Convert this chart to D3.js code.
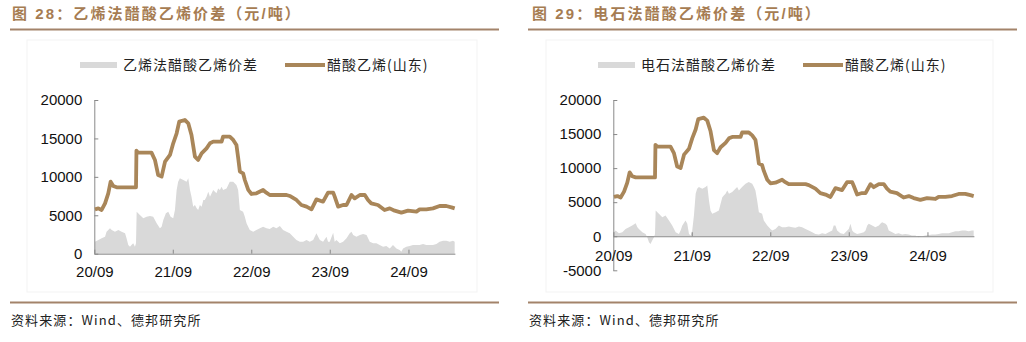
<!DOCTYPE html>
<html>
<head>
<meta charset="utf-8">
<script src="https://cdn.jsdelivr.net/npm/d3@7"></script>
<style>
  html, body { margin: 0; padding: 0; background: #fff; }
  svg { display: block; }
</style>
</head>
<body>
<svg id="chart" width="1026" height="342"></svg>
<script>
// ---- Data (元/吨) ----
const xTickDates = ["2020-09-01", "2021-09-01", "2022-09-01", "2023-09-01", "2024-09-01"];
const xTickLabels = ["20/09", "21/09", "22/09", "23/09", "24/09"];
const leftYTicks = [0, 5000, 10000, 15000, 20000];
const rightYTicks = [-5000, 0, 5000, 10000, 15000, 20000];

// 醋酸乙烯(山东) price
const priceDates = [
  "2020-09-04","2020-09-20","2020-10-05","2020-10-21","2020-11-05","2020-11-16","2020-11-28","2020-12-14",
  "2021-03-14","2021-03-16","2021-03-24","2021-05-25","2021-06-10","2021-06-25","2021-07-11","2021-07-27",
  "2021-08-19","2021-09-03","2021-09-19","2021-10-01","2021-10-27","2021-11-12","2021-11-27","2021-12-13",
  "2021-12-28","2022-01-13","2022-02-05","2022-02-21","2022-03-08","2022-04-16","2022-04-23","2022-05-24",
  "2022-06-09","2022-06-24","2022-07-02","2022-07-10","2022-07-25","2022-08-02","2022-08-18","2022-09-02",
  "2022-09-25","2022-10-26","2022-11-10","2022-11-26","2023-02-12","2023-02-27","2023-03-30","2023-04-22",
  "2023-05-16","2023-06-08","2023-07-01","2023-08-01","2023-08-24","2023-09-17","2023-09-24","2023-10-10",
  "2023-11-02","2023-11-18","2023-12-11","2023-12-26","2024-01-19","2024-02-11","2024-02-26","2024-03-12",
  "2024-04-12","2024-05-13","2024-06-06","2024-06-29","2024-07-30","2024-08-30","2024-10-08","2024-10-23",
  "2024-11-23","2024-12-24","2025-01-24","2025-02-24","2025-03-20","2025-04-04"
];
const priceValues = [
  5770,5900,5690,6550,7860,9370,8810,8640,
  8640,13410,13150,13150,12200,10240,10030,11980,
  12850,14370,15670,17190,17400,16970,15450,12630,
  12200,13060,13710,14370,14580,14580,15230,15230,
  14800,14150,12500,10680,10460,9590,8300,7770,
  7860,8290,7940,7640,7640,7510,6990,6340,
  6120,5770,7070,6770,7940,7940,7420,6120,
  6340,6340,7640,7200,7640,7640,6990,6550,
  6340,5690,5900,5600,5340,5600,5470,5770,
  5770,5900,6210,6210,6030,5900
];

// 乙烯法醋酸乙烯价差
const ethyleneDates = [
  "2020-09-04","2020-09-20","2020-10-05","2020-10-21","2020-10-28","2020-11-05","2020-11-13","2020-11-21",
  "2020-12-06","2020-12-22","2021-01-06","2021-01-22","2021-01-29","2021-02-06","2021-02-14","2021-02-21",
  "2021-03-01","2021-03-09","2021-03-14","2021-03-17","2021-04-01","2021-04-17","2021-05-02","2021-05-18",
  "2021-06-02","2021-06-18","2021-07-03","2021-07-11","2021-07-19","2021-07-31","2021-08-11","2021-08-22",
  "2021-09-03","2021-09-11","2021-09-19","2021-09-26","2021-10-04","2021-10-20","2021-11-04","2021-11-12",
  "2021-11-20","2021-11-27","2021-12-05","2021-12-13","2021-12-21","2021-12-28","2022-01-05","2022-01-13",
  "2022-01-21","2022-01-28","2022-02-05","2022-02-13","2022-02-21","2022-03-08","2022-03-23","2022-03-31",
  "2022-04-08","2022-04-16","2022-04-23","2022-05-09","2022-05-24","2022-06-09","2022-06-24","2022-07-02",
  "2022-07-10","2022-07-25","2022-08-02","2022-08-10","2022-08-25","2022-09-10","2022-09-25","2022-10-11",
  "2022-10-26","2022-11-11","2022-11-26","2022-12-12","2022-12-27","2023-01-12","2023-01-27","2023-02-12",
  "2023-02-27","2023-03-15","2023-03-30","2023-04-15","2023-04-30","2023-05-16","2023-05-31","2023-06-16",
  "2023-07-01","2023-07-09","2023-07-17","2023-08-01","2023-08-17","2023-08-24","2023-09-01","2023-09-17",
  "2023-09-24","2023-10-02","2023-10-18","2023-11-02","2023-11-18","2023-12-03","2023-12-11","2023-12-19",
  "2024-01-03","2024-01-19","2024-02-03","2024-02-19","2024-03-05","2024-03-21","2024-04-05","2024-04-20",
  "2024-05-06","2024-05-21","2024-06-06","2024-06-21","2024-07-07","2024-07-22","2024-07-30","2024-08-07",
  "2024-08-22","2024-09-07","2024-09-22","2024-10-08","2024-10-23","2024-11-08","2024-11-23","2024-12-09",
  "2024-12-24","2025-01-09","2025-01-24","2025-02-09","2025-02-24","2025-03-12","2025-03-27","2025-04-04"
];
const ethyleneValues = [
  1560,1780,2000,2210,2860,3080,3300,3080,
  2860,3080,2860,2650,2000,1130,910,1130,
  1350,910,1350,5470,5030,4600,4820,4900,
  4820,3950,3300,3520,4380,5250,5470,4820,
  4600,5690,8290,9370,9810,9590,9370,9810,
  8290,7420,6120,6340,5900,5690,6340,6120,
  6990,6990,7420,8070,7420,8290,7860,8500,
  8290,8720,8290,8500,9370,9370,8940,8290,
  5690,5470,4820,3950,3080,2860,3080,3300,
  3520,3300,3200,3520,3300,3600,3080,2860,
  2650,2210,1780,1560,1560,1780,1560,1780,
  2650,2210,1780,1560,2210,1560,1560,2730,
  1560,1780,1350,1560,2000,2650,2860,2430,
  2210,2430,2560,2430,1560,1350,1350,1130,
  910,1000,690,1130,690,480,260,690,
  910,1000,1130,1130,1130,1260,1130,1130,
  1130,1260,1560,1690,1690,1560,1690,1560
];

// 电石法醋酸乙烯价差
const carbideDates = [
  "2020-09-04","2020-09-12","2020-09-27","2020-10-13","2020-10-28","2020-11-13","2020-11-28","2020-12-14",
  "2020-12-22","2020-12-29","2021-01-14","2021-01-29","2021-02-06","2021-02-14","2021-02-21","2021-03-01",
  "2021-03-09","2021-03-14","2021-03-17","2021-04-01","2021-04-17","2021-05-02","2021-05-18","2021-06-02",
  "2021-06-18","2021-07-03","2021-07-11","2021-07-19","2021-08-03","2021-08-11","2021-08-19","2021-08-27",
  "2021-09-03","2021-09-11","2021-09-19","2021-09-26","2021-10-04","2021-10-20","2021-11-04","2021-11-12",
  "2021-11-20","2021-11-27","2021-12-05","2021-12-21","2022-01-05","2022-01-13","2022-01-21","2022-01-28",
  "2022-02-05","2022-02-13","2022-02-21","2022-03-08","2022-03-23","2022-03-31","2022-04-08","2022-04-23",
  "2022-05-09","2022-05-24","2022-06-09","2022-06-17","2022-06-24","2022-07-02","2022-07-10","2022-07-25",
  "2022-08-02","2022-08-18","2022-09-02","2022-09-10","2022-09-25","2022-10-11","2022-10-26","2022-11-11",
  "2022-11-26","2022-12-12","2022-12-27","2023-01-12","2023-01-27","2023-02-12","2023-02-27","2023-03-15",
  "2023-03-30","2023-04-15","2023-04-30","2023-05-16","2023-05-31","2023-06-16","2023-06-23","2023-07-01",
  "2023-07-09","2023-07-24","2023-08-09","2023-08-17","2023-09-01","2023-09-09","2023-09-17","2023-09-24",
  "2023-10-10","2023-10-25","2023-11-10","2023-11-18","2023-11-26","2023-12-03","2023-12-19","2024-01-03",
  "2024-01-19","2024-01-26","2024-02-03","2024-02-19","2024-02-26","2024-03-05","2024-03-21","2024-04-05",
  "2024-04-20","2024-05-06","2024-05-21","2024-06-06","2024-06-21","2024-07-07","2024-07-22","2024-07-30",
  "2024-08-07","2024-08-22","2024-09-07","2024-09-22","2024-10-08","2024-10-23","2024-11-08","2024-11-23",
  "2024-12-09","2024-12-24","2025-01-09","2025-01-24","2025-02-09","2025-02-24","2025-03-12","2025-03-27",
  "2025-04-04"
];
const carbideValues = [
  590,830,440,590,1080,1330,1570,1910,
  1330,1080,590,340,-150,-880,-1130,-640,
  -150,340,3780,3290,2800,3040,2310,1570,
  590,340,830,1570,2310,1820,340,100,
  830,3040,6240,6970,7220,6970,7220,7460,
  5250,3780,3290,3540,3780,4760,5740,5990,
  6240,6730,6240,6480,6970,7220,6730,7220,
  7710,7950,7710,7220,6730,5250,3540,3290,
  2310,1570,1080,830,1080,1570,1330,1330,
  1420,1330,1230,1420,1330,1080,830,590,
  340,250,440,340,590,830,1570,1570,
  830,440,340,590,1080,1820,830,590,
  340,440,590,830,1570,1820,1570,1330,
  1570,1820,2060,1820,1570,830,590,340,
  440,250,340,250,100,100,-150,-50,
  0,100,200,250,250,340,440,440,
  440,590,740,740,830,830,740,830,
  830
];

// ---- Styles ----
const BROWN = "#a98659";
const TITLE_BROWN = "#a67c52";
const RULE = "#a3836a";
const GREY_AREA = "#d9d9d9";
const AXIS = "#898989";
const LATIN = "'Liberation Sans', Arial, 'Noto Sans CJK SC', sans-serif";
const CJK = "'Noto Sans CJK SC', 'Liberation Sans', sans-serif";

const parse = d3.timeParse("%Y-%m-%d");
const zip = (ds, vs) => ds.map((d, i) => ({ date: parse(d), value: vs[i] }));
const priceSeries = zip(priceDates, priceValues);

const svg = d3.select("#chart");

function drawPanel(cfg) {
  const g = svg.append("g");

  // faint frame around the chart block
  g.append("rect")
    .attr("x", cfg.frame[0]).attr("y", cfg.frame[1])
    .attr("width", cfg.frame[2]).attr("height", cfg.frame[3])
    .attr("fill", "none").attr("stroke", "#f3f3f3").attr("stroke-width", 1);

  // title and rules
  g.append("text")
    .attr("x", cfg.titleX).attr("y", 19)
    .attr("font-family", LATIN).attr("font-size", 15).attr("font-weight", "bold")
    .attr("letter-spacing", 2.1)
    .attr("fill", TITLE_BROWN)
    .text(cfg.title);
  g.append("line")
    .attr("x1", cfg.ruleX[0]).attr("x2", cfg.ruleX[1])
    .attr("y1", 29.5).attr("y2", 29.5)
    .attr("stroke", RULE).attr("stroke-width", 2);
  g.append("line")
    .attr("x1", cfg.ruleX[0]).attr("x2", cfg.ruleX[1])
    .attr("y1", 302.5).attr("y2", 302.5)
    .attr("stroke", RULE).attr("stroke-width", 2);
  g.append("text")
    .attr("x", cfg.ruleX[0] + 1).attr("y", 325)
    .attr("font-family", CJK).attr("font-size", 13)
    .attr("letter-spacing", 1.1)
    .attr("fill", "#222")
    .text("资料来源：Wind、德邦研究所");

  // scales
  const x = d3.scaleTime()
    .domain([parse("2020-09-01"), parse("2025-04-05")])
    .range([cfg.x0, cfg.x0 + 360.6]);
  const y = d3.scaleLinear()
    .domain(cfg.yDomain)
    .range([cfg.yBottom, 100]);

  // spread area from zero
  const spread = zip(cfg.spreadDates, cfg.spreadValues);
  g.append("path")
    .datum(spread)
    .attr("fill", GREY_AREA)
    .attr("d", d3.area().x(d => x(d.date)).y0(y(0)).y1(d => y(d.value)));

  // y axis
  const yAxis = g.append("g")
    .attr("transform", `translate(${cfg.x0},0)`)
    .call(d3.axisLeft(y).tickValues(cfg.yTicks).tickFormat(v => String(v))
      .tickSizeInner(-4).tickSizeOuter(0).tickPadding(12));
  // x axis at zero
  const xAxis = g.append("g")
    .attr("transform", `translate(0,${y(0)})`)
    .call(d3.axisBottom(x).tickValues(xTickDates.map(parse))
      .tickFormat((d, i) => xTickLabels[i])
      .tickSizeInner(-4).tickSizeOuter(0).tickPadding(cfg.xPad));
  [yAxis, xAxis].forEach(a => {
    a.selectAll("path, line").attr("stroke", AXIS).attr("stroke-width", 1);
    a.selectAll("text").attr("font-family", LATIN).attr("font-size", 15).attr("fill", "#111");
  });

  // price line
  g.append("path")
    .datum(priceSeries)
    .attr("fill", "none")
    .attr("stroke", BROWN)
    .attr("stroke-width", 3.8)
    .attr("stroke-linejoin", "round")
    .attr("d", d3.line().x(d => x(d.date)).y(d => y(d.value)));

  // legend
  const L = cfg.legend;
  g.append("rect")
    .attr("x", L.swatchX).attr("y", 62).attr("width", 37).attr("height", 6)
    .attr("fill", GREY_AREA);
  g.append("text")
    .attr("x", L.swatchX + 43).attr("y", 70)
    .attr("font-family", CJK).attr("font-size", 14).attr("letter-spacing", 1)
    .attr("fill", "#222").text(cfg.spreadName);
  g.append("line")
    .attr("x1", L.lineX).attr("x2", L.lineX + 40).attr("y1", 65).attr("y2", 65)
    .attr("stroke", BROWN).attr("stroke-width", 4);
  g.append("text")
    .attr("x", L.lineX + 42).attr("y", 70)
    .attr("font-family", CJK).attr("font-size", 14).attr("letter-spacing", 1)
    .attr("fill", "#222").text("醋酸乙烯(山东)");
}

drawPanel({
  title: "图 28：乙烯法醋酸乙烯价差（元/吨）",
  titleX: 12,
  ruleX: [10, 499],
  frame: [27, 40, 450, 252],
  x0: 94.3,
  yBottom: 253.7,
  yDomain: [0, 20000],
  yTicks: leftYTicks,
  xPad: 13,
  spreadName: "乙烯法醋酸乙烯价差",
  spreadDates: ethyleneDates,
  spreadValues: ethyleneValues,
  legend: { swatchX: 80, lineX: 285 }
});

drawPanel({
  title: "图 29：电石法醋酸乙烯价差（元/吨）",
  titleX: 532,
  ruleX: [528, 1017],
  frame: [546, 40, 447, 252],
  x0: 613.3,
  yBottom: 270.3,
  yDomain: [-5000, 20000],
  yTicks: rightYTicks,
  xPad: 14,
  spreadName: "电石法醋酸乙烯价差",
  spreadDates: carbideDates,
  spreadValues: carbideValues,
  legend: { swatchX: 598, lineX: 803 }
});
</script>
</body>
</html>
